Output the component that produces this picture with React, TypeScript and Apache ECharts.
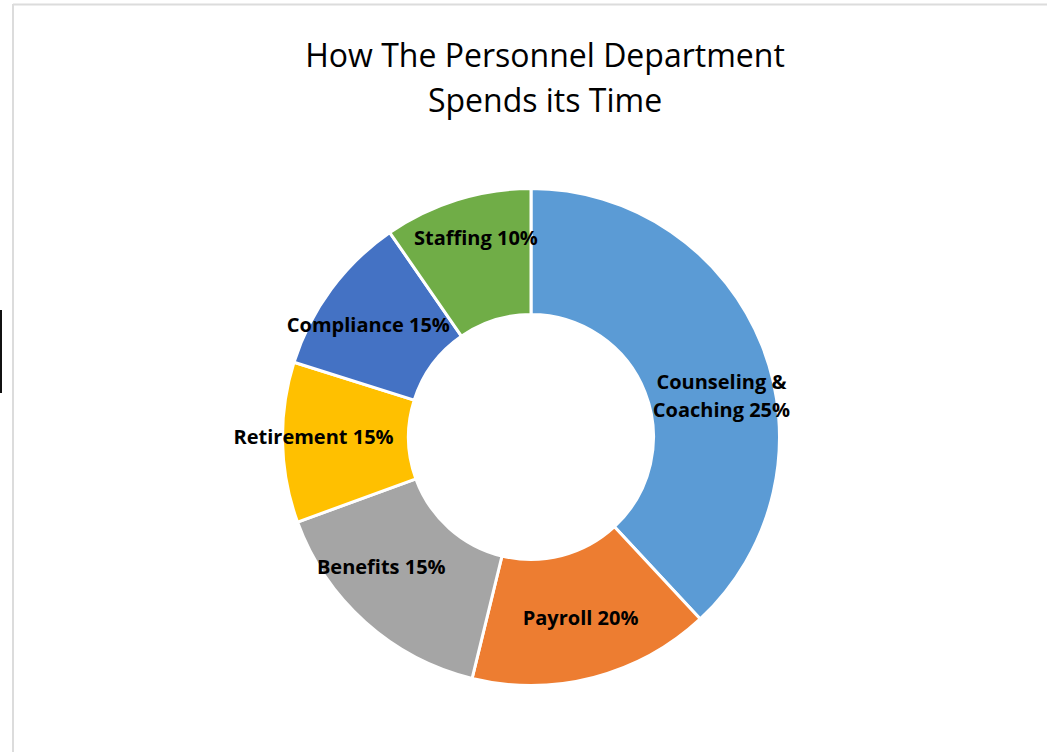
import React, { useEffect, useRef } from "react";
import * as echarts from "echarts";

const categories = ["Counseling & Coaching", "Payroll", "Benefits", "Retirement", "Compliance", "Staffing"];
const values = [38, 15.7, 15.6, 10.4, 10.5, 9.6];
const labelTexts = ["Counseling &\nCoaching 25%", "Payroll 20%", "Benefits 15%", "Retirement 15%", "Compliance 15%", "Staffing 10%"];
const colors = ["#5B9BD5", "#ED7D31", "#A5A5A5", "#FFC000", "#4472C4", "#70AD47"];
const titleText = "How The Personnel Department\nSpends its Time";

// label nudges (dx, dy) in pixels, applied via asymmetric padding
const labelNudge: [number, number][] = [[15, 27], [2, -2], [-24, -11], [-29, -5], [-11, -1], [1, -20]];

const FONT = "'Open Sans', 'Noto Sans', sans-serif";

export default function App() {
  const ref = useRef<HTMLDivElement>(null);
  useEffect(() => {
    if (!ref.current) return;
    const chart = echarts.init(ref.current, null, { renderer: "svg" });
    const data = categories.map((name, i) => {
      const [dx, dy] = labelNudge[i];
      return {
        name,
        value: values[i],
        itemStyle: { color: colors[i] },
        label: {
          padding: [Math.max(0, 2 * dy), Math.max(0, -2 * dx), Math.max(0, -2 * dy), Math.max(0, 2 * dx)],
        },
      };
    });
    chart.setOption({
      animation: false,
      backgroundColor: "#ffffff",
      title: {
        text: titleText,
        left: 545,
        top: 32,
        textAlign: "center",
        padding: 0,
        textStyle: { fontFamily: FONT, fontSize: 32, fontWeight: "normal", color: "#000", lineHeight: 45 },
      },
      graphic: [
        { type: "line", shape: { x1: 13, y1: 4.5, x2: 1047, y2: 4.5 }, style: { stroke: "#dcdcdc", lineWidth: 2 } },
        { type: "line", shape: { x1: 13, y1: 4, x2: 13, y2: 752 }, style: { stroke: "#dcdcdc", lineWidth: 2 } },
        { type: "line", shape: { x1: 1, y1: 310, x2: 1, y2: 393 }, style: { stroke: "#111", lineWidth: 2 } },
      ],
      series: [
        {
          type: "pie",
          center: [531, 437],
          radius: [122.5, 248.5],
          startAngle: 90,
          clockwise: true,
          avoidLabelOverlap: false,
          itemStyle: { borderColor: "#ffffff", borderWidth: 3 },
          label: {
            show: true,
            position: "inside",
            color: "#000",
            formatter: (p: any) =>
              labelTexts[p.dataIndex]
                .split("\n")
                .map((s) => "{b|" + s + "}")
                .join("\n"),
            rich: {
              b: {
                fontFamily: FONT,
                fontSize: 20,
                fontWeight: "bold",
                color: "#000",
                lineHeight: 28,
              },
            },
          },
          labelLine: { show: false },
          emphasis: { disabled: true },
          data,
        },
      ],
    });
    return () => chart.dispose();
  }, []);
  return <div ref={ref} style={{ position: "fixed", left: 0, top: 0, width: 1047, height: 752 }} />;
}
